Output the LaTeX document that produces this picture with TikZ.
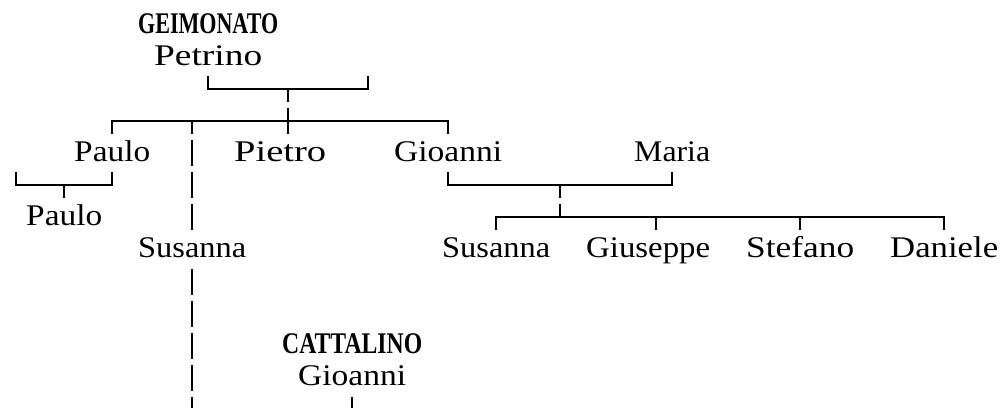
\documentclass[tikz,border=0pt]{standalone}
\usepackage{fontspec}
\setmainfont{Liberation Serif}
\usepackage{graphicx}
\newcommand\wfit[2]{\resizebox{#1pt}{\height}{#2}}
\tikzset{
  nm/.style={anchor=base west, inner sep=0pt, font=\fontsize{30}{30}\selectfont},
  conn/.style={line width=2pt, line join=miter},
  vd/.style={conn, dash pattern=on 26pt off 6pt, dash phase=13pt},
  vdz/.style={conn, dash pattern=on 26pt off 6pt, dash phase=0pt},
}
\begin{document}
\begin{tikzpicture}[x=1pt,y=-1pt]
\useasboundingbox (0,0) rectangle (1002,408);
% names
\node[nm] (geimonato) at (138,33) {\wfit{140}{\bfseries GEIMONATO}};
\node[nm] (petrino)   at (154,65) {\wfit{108}{Petrino}};
\node[nm] (paulo1)    at (74,161) {\wfit{76}{Paulo}};
\node[nm] (pietro)    at (234,161) {\wfit{92}{Pietro}};
\node[nm] (gioanni1)  at (394,161) {\wfit{108}{Gioanni}};
\node[nm] (maria)     at (634,161) {\wfit{76}{Maria}};
\node[nm] (paulo2)    at (26,225) {\wfit{76}{Paulo}};
\node[nm] (susanna1)  at (138,257) {\wfit{108}{Susanna}};
\node[nm] (susanna2)  at (442,257) {\wfit{108}{Susanna}};
\node[nm] (giuseppe)  at (586,257) {\wfit{124}{Giuseppe}};
\node[nm] (stefano)   at (746,257) {\wfit{108}{Stefano}};
\node[nm] (daniele)   at (890,257) {\wfit{108}{Daniele}};
\node[nm] (cattalino) at (282,353) {\wfit{140}{\bfseries CATTALINO}};
\node[nm] (gioanni2)  at (298,385) {\wfit{108}{Gioanni}};
% Petrino couple bracket
\coordinate (gL) at (208,76); \coordinate (gR) at (368,76);
\coordinate (gM) at (288,89); \coordinate (gK) at (288,134);
\draw[conn] (gL) |- (gM) -| (gR);
\draw[vd] (gM) -- (gK);
% children bar
\coordinate (k1) at (112,134); \coordinate (k4) at (448,134);
\coordinate (kbar) at (288,121); \coordinate (k2) at (192,121);
\draw[conn] (k1) |- (kbar) -| (k4);
\coordinate (s1top) at (192,230);
\draw[vd] (k2) -- (s1top);
\coordinate (s1bot) at (192,269); \coordinate (s1end) at (192,408);
\draw[vdz] (s1bot) -- (s1end);
% Paulo bracket
\coordinate (pl) at (16,172); \coordinate (pr) at (112,172);
\coordinate (pm) at (64,185); \coordinate (pc) at (64,198);
\draw[conn] (pl) |- (pm) -| (pr);
\draw[conn] (pm) -- (pc);
% Gioanni - Maria bracket
\coordinate (ml) at (448,172); \coordinate (mr) at (672,172);
\coordinate (mm) at (560,185); \coordinate (mb) at (560,217);
\draw[conn] (ml) |- (mm) -| (mr);
\draw[vd] (mm) -- (mb);
\coordinate (c1) at (496,230); \coordinate (c4) at (944,230);
\draw[conn] (c1) |- (mb) -| (c4);
\coordinate (c2a) at (656,217); \coordinate (c2b) at (656,230);
\coordinate (c3a) at (800,217); \coordinate (c3b) at (800,230);
\draw[conn] (c2a) -- (c2b);
\draw[conn] (c3a) -- (c3b);
% Cattalino descent
\coordinate (gt) at (352,397); \coordinate (gb) at (352,408);
\draw[conn] (gt) -- (gb);
\end{tikzpicture}
\end{document}
